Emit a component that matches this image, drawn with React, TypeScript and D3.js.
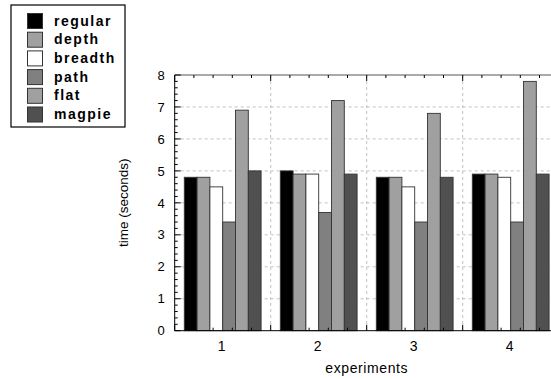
import React from "react";
import * as d3 from "d3";

const experiments = [1, 2, 3, 4];
const seriesNames = ["regular", "depth", "breadth", "path", "flat", "magpie"];
const regular = [4.8, 5.0, 4.8, 4.9];
const depth = [4.8, 4.9, 4.8, 4.9];
const breadth = [4.5, 4.9, 4.5, 4.8];
const pathVals = [3.4, 3.7, 3.4, 3.4];
const flat = [6.9, 7.2, 6.8, 7.8];
const magpie = [5.0, 4.9, 4.8, 4.9];
const yTicks = [0, 1, 2, 3, 4, 5, 6, 7, 8];
const seriesColors = ["#000000", "#a0a0a0", "#ffffff", "#808080", "#a0a0a0", "#505050"];

const seriesValues = [regular, depth, breadth, pathVals, flat, magpie];

export default function App() {
  const W = 551, H = 379;
  const left = 174.7, right = 558.7, top = 75, bottom = 330.7;
  const x = d3.scaleLinear().domain([0.5, 4.5]).range([left, right]);
  const y = d3.scaleLinear().domain([0, 8]).range([bottom, top]);
  const groupWidth = 0.8;
  const barW = groupWidth / seriesNames.length;

  const minorX = d3.range(0, 21).map((k) => 0.5 + 0.2 * k);
  const minorY = d3.range(0, 41).map((k) => 0.2 * k);
  const font = "Liberation Sans, Arial, sans-serif";

  return (
    <svg width={W} height={H} style={{ position: "absolute", left: 0, top: 0, display: "block" }}>
      {/* grid */}
      {yTicks.slice(1, -1).map((t) => (
        <line key={"gy" + t} x1={left} x2={right} y1={y(t)} y2={y(t)} stroke="#c0c0c0" strokeDasharray="3,3" strokeWidth={1} />
      ))}
      {[1.5, 2.5, 3.5].map((t) => (
        <line key={"gx" + t} x1={x(t)} x2={x(t)} y1={top} y2={bottom} stroke="#c0c0c0" strokeDasharray="3,3" strokeWidth={1} />
      ))}
      {/* bars */}
      {seriesValues.map((vals, si) =>
        vals.map((v, gi) => {
          const x0 = x(experiments[gi] - groupWidth / 2 + si * barW);
          const x1 = x(experiments[gi] - groupWidth / 2 + (si + 1) * barW);
          return (
            <rect key={si + "-" + gi} x={x0} y={y(v)} width={x1 - x0} height={y(0) - y(v)}
              fill={seriesColors[si]} stroke="#333" strokeWidth={0.9} />
          );
        })
      )}
      {/* axes frame */}
      <line x1={left} x2={right} y1={bottom} y2={bottom} stroke="#000" strokeWidth={1} />
      <line x1={left} x2={right} y1={top} y2={top} stroke="#555" strokeWidth={1} />
      <line x1={left} x2={left} y1={top} y2={bottom} stroke="#000" strokeWidth={1} />
      {/* y ticks */}
      {minorY.map((t, i) => {
        const major = i % 5 === 0;
        return <line key={"ty" + i} x1={left} x2={left + (major ? 6 : 3)} y1={y(t)} y2={y(t)} stroke="#000" strokeWidth={1} />;
      })}
      {/* x ticks */}
      {minorX.map((t, i) => {
        const major = i % 5 === 0;
        const len = major ? 6 : 3;
        return (
          <g key={"tx" + i}>
            <line x1={x(t)} x2={x(t)} y1={bottom} y2={bottom - len} stroke="#000" strokeWidth={1} />
            <line x1={x(t)} x2={x(t)} y1={top} y2={top + len} stroke="#000" strokeWidth={1} />
          </g>
        );
      })}
      {/* tick labels */}
      {yTicks.map((t) => (
        <text key={"ly" + t} x={left - 10} y={y(t)} dy="0.36em" textAnchor="end" fontFamily={font} fontSize={13}>{t}</text>
      ))}
      {experiments.map((e) => (
        <text key={"lx" + e} x={x(e) - 1} y={bottom + 20} textAnchor="middle" fontFamily={font} fontSize={14}>{e}</text>
      ))}
      <text x={x(2.5)} y={373} textAnchor="middle" fontFamily={font} fontSize={14} letterSpacing={0.6}>experiments</text>
      <text transform={`translate(128,${(top + bottom) / 2}) rotate(-90)`} textAnchor="middle" fontFamily={font} fontSize={13.5}>time (seconds)</text>
      {/* legend */}
      <rect x={11} y={5} width={114} height={122} fill="#fff" stroke="#000" strokeWidth={1.2} />
      {seriesNames.map((n, i) => (
        <g key={n} transform={`translate(0,${13 + i * 18.7})`}>
          <rect x={27.5} y={0.5} width={15} height={15} fill={seriesColors[i]} stroke="#333" strokeWidth={1} />
          <text x={54} y={12.5} fontFamily={font} fontSize={14} fontWeight="bold" letterSpacing={1.5}>{n}</text>
        </g>
      ))}
    </svg>
  );
}
